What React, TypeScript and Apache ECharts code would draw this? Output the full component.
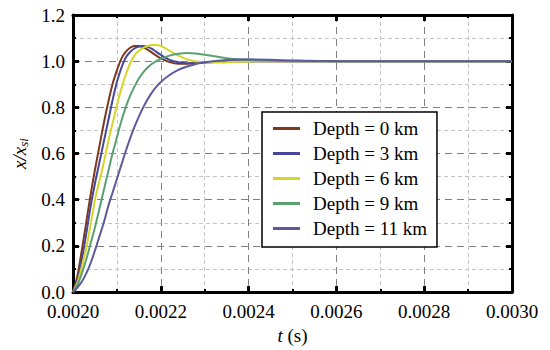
import React, { useEffect, useRef } from "react";
import * as echarts from "echarts";

// time in seconds (common sampling grid)
const times = [
  0.00200, 0.00201, 0.00202, 0.00203, 0.00204, 0.00205, 0.00206, 0.00207, 0.00208, 0.00209,
  0.00210, 0.00211, 0.00212, 0.00213, 0.00214, 0.00215, 0.00216, 0.00217, 0.00218, 0.00219,
  0.00220, 0.00222, 0.00224, 0.00226, 0.00228, 0.00230, 0.00233, 0.00236, 0.00240, 0.00245,
  0.00250, 0.00260, 0.00280, 0.00300,
];

const depth0 = [
  0, 0.07, 0.18, 0.30, 0.42, 0.53, 0.63, 0.73, 0.82, 0.90,
  0.96, 1.01, 1.04, 1.058, 1.066, 1.066, 1.06, 1.05, 1.037, 1.024,
  1.012, 0.996, 0.989, 0.989, 0.992, 0.995, 0.998, 0.999, 1.0, 1.0,
  1.0, 1.0, 1.0, 1.0,
];
const depth3 = [
  0, 0.05, 0.14, 0.25, 0.37, 0.47, 0.56, 0.65, 0.74, 0.83,
  0.91, 0.97, 1.015, 1.04, 1.055, 1.063, 1.066, 1.062, 1.053, 1.04,
  1.027, 1.006, 0.995, 0.991, 0.992, 0.994, 0.997, 0.999, 1.0, 1.0,
  1.0, 1.0, 1.0, 1.0,
];
const depth6 = [
  0, 0.04, 0.11, 0.19, 0.29, 0.40, 0.48, 0.56, 0.65, 0.73,
  0.81, 0.88, 0.94, 0.99, 1.025, 1.045, 1.058, 1.066, 1.07, 1.07,
  1.066, 1.045, 1.024, 1.008, 0.999, 0.995, 0.994, 0.996, 0.999, 1.0,
  1.0, 1.0, 1.0, 1.0,
];
const depth9 = [
  0, 0.03, 0.08, 0.14, 0.21, 0.28, 0.36, 0.44, 0.52, 0.60,
  0.67, 0.74, 0.80, 0.85, 0.89, 0.925, 0.952, 0.973, 0.989, 1.0,
  1.01, 1.024, 1.032, 1.035, 1.033, 1.028, 1.019, 1.011, 1.005, 1.002,
  1.0, 1.0, 1.0, 1.0,
];
const depth11 = [
  0, 0.02, 0.045, 0.08, 0.125, 0.18, 0.24, 0.30, 0.37, 0.43,
  0.49, 0.55, 0.61, 0.665, 0.715, 0.76, 0.80, 0.835, 0.865, 0.89,
  0.91, 0.94, 0.962, 0.977, 0.988, 0.995, 1.002, 1.006, 1.008, 1.006,
  1.003, 1.0, 1.0, 1.0,
];

const seriesNames = ["Depth = 0 km", "Depth = 3 km", "Depth = 6 km", "Depth = 9 km", "Depth = 11 km"];
const seriesValues = [depth0, depth3, depth6, depth9, depth11];
const seriesColors = ["#7c3a1c", "#46469a", "#d6d62a", "#5ca072", "#5c5a9c"];

const xTickFormat = (v: number) => v.toFixed(4);
const yTickFormat = (v: number) => v.toFixed(1);

const FONT = "'Liberation Serif', 'Times New Roman', 'DejaVu Serif', serif";
const FS = 19;

export default function App() {
  const ref = useRef<HTMLDivElement>(null);
  useEffect(() => {
    if (!ref.current) return;
    const chart = echarts.init(ref.current, null, { renderer: "svg" });
    const majorSplit = { show: true, lineStyle: { color: "#808080", width: 1, type: [7, 5] as any } };
    const minorSplit = { show: true, lineStyle: { color: "#c4c4c4", width: 1, type: [4, 3] as any } };
    const axisLine = { show: true, onZero: false, lineStyle: { color: "#000", width: 3 } };
    const axisTick = { show: true, inside: true, length: 6, lineStyle: { color: "#000", width: 3 } };
    const minorTick = { show: true, splitNumber: 2, length: 3, lineStyle: { color: "#000", width: 2 } };
    const labelStyle = { color: "#000", fontFamily: FONT, fontSize: FS };

    chart.setOption({
      animation: false,
      backgroundColor: "#fff",
      grid: { left: 73, right: 38, top: 15, bottom: 54 },
      legend: {
        left: 262,
        top: 112,
        orient: "vertical",
        data: seriesNames,
        icon: "rect",
        itemWidth: 27,
        itemHeight: 3,
        itemGap: 6,
        padding: [7, 10, 9, 11],
        backgroundColor: "#fff",
        borderColor: "#000",
        borderWidth: 1.5,
        textStyle: { color: "#000", fontFamily: FONT, fontSize: FS, padding: [0, 0, 0, 8] },
      },
      xAxis: [
        {
          type: "value",
          min: 0.002,
          max: 0.003,
          interval: 0.0002,
          name: "{i|t} (s)",
          nameLocation: "middle",
          nameGap: 26,
          nameTextStyle: {
            color: "#000",
            fontFamily: FONT,
            fontSize: FS,
            rich: { i: { fontFamily: FONT, fontSize: FS, fontStyle: "italic", color: "#000" } },
          },
          axisLine,
          axisTick,
          minorTick,
          splitLine: majorSplit,
          minorSplitLine: minorSplit,
          axisLabel: { ...labelStyle, margin: 10, formatter: xTickFormat },
        },
        {
          type: "value",
          position: "top",
          min: 0.002,
          max: 0.003,
          interval: 0.0002,
          axisLine,
          axisTick,
          minorTick,
          splitLine: { show: false },
          axisLabel: { show: false },
        },
      ],
      yAxis: [
        {
          type: "value",
          min: 0,
          max: 1.2,
          interval: 0.2,
          name: "{i|x/x}{s|si}",
          nameLocation: "middle",
          nameGap: 42,
          nameTextStyle: {
            color: "#000",
            fontFamily: FONT,
            fontSize: FS,
            rich: {
              i: { fontFamily: FONT, fontSize: FS, fontStyle: "italic", color: "#000" },
              s: { fontFamily: FONT, fontSize: 13, fontStyle: "italic", color: "#000", verticalAlign: "bottom", padding: [8, 0, 0, 0] },
            },
          },
          axisLine,
          axisTick,
          minorTick,
          splitLine: majorSplit,
          minorSplitLine: minorSplit,
          axisLabel: { ...labelStyle, margin: 8, formatter: yTickFormat },
        },
        {
          type: "value",
          position: "right",
          min: 0,
          max: 1.2,
          interval: 0.2,
          axisLine,
          axisTick,
          minorTick,
          splitLine: { show: false },
          axisLabel: { show: false },
        },
      ],
      series: seriesNames.map((name, i) => ({
        name,
        type: "line",
        xAxisIndex: 0,
        yAxisIndex: 0,
        smooth: 0.3,
        showSymbol: false,
        symbol: "none",
        lineStyle: { color: seriesColors[i], width: 2 },
        itemStyle: { color: seriesColors[i] },
        data: times.map((t, k) => [t, seriesValues[i][k]]),
      })),
    });
    return () => chart.dispose();
  }, []);
  return <div ref={ref} style={{ position: "fixed", left: 0, top: 0, width: 550, height: 350 }} />;
}
